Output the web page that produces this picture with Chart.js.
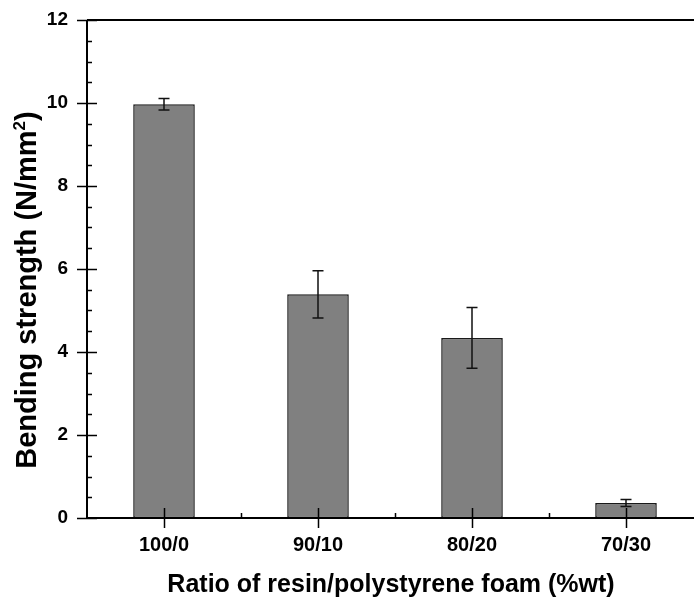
<!DOCTYPE html>
<html>
<head>
<meta charset="utf-8">
<script src="https://cdn.jsdelivr.net/npm/chart.js@4.4.0/dist/chart.umd.min.js"></script>
<style>
  html, body { margin: 0; padding: 0; background: #fff; }
  #wrap { width: 694px; height: 599px; overflow: hidden; position: relative; }
  canvas { display: block; }
</style>
</head>
<body>
<div id="wrap"><canvas id="c" width="720" height="599"></canvas></div>
<script>
const categories = ['100/0', '90/10', '80/20', '70/30'];
const strength = [9.97, 5.39, 4.34, 0.36];
const strengthErr = [0.14, 0.57, 0.73, 0.085];
const yTicks = [0, 2, 4, 6, 8, 10, 12];
const xTitle = 'Ratio of resin/polystyrene foam (%wt)';
const yTitleMain = 'Bending strength (N/mm';
const yTitleSup = '2';
const yTitleEnd = ')';

const FONT = '"Liberation Sans", Arial, sans-serif';

const decorPlugin = {
  id: 'decor',
  afterDatasetsDraw(chart) {
    const ctx = chart.ctx;
    const a = chart.chartArea;
    const xs = chart.scales.x, ys = chart.scales.y;
    ctx.save();
    // error bars
    ctx.strokeStyle = '#111';
    ctx.lineWidth = 1.5;
    strength.forEach((v, i) => {
      const x = xs.getPixelForValue(i);
      const yt = ys.getPixelForValue(v + strengthErr[i]);
      const yb = ys.getPixelForValue(v - strengthErr[i]);
      const cap = 5.5;
      ctx.beginPath();
      ctx.moveTo(x, yt); ctx.lineTo(x, yb);
      ctx.moveTo(x - cap, yt); ctx.lineTo(x + cap, yt);
      ctx.moveTo(x - cap, yb); ctx.lineTo(x + cap, yb);
      ctx.stroke();
    });
    // axes frame
    ctx.strokeStyle = '#000';
    ctx.lineWidth = 2;
    ctx.beginPath();
    ctx.moveTo(a.left, a.top); ctx.lineTo(a.right, a.top);
    ctx.moveTo(a.left, a.top); ctx.lineTo(a.left, a.bottom);
    ctx.moveTo(a.left, a.bottom); ctx.lineTo(a.right, a.bottom);
    ctx.moveTo(a.right, a.top); ctx.lineTo(a.right, a.bottom);
    ctx.stroke();
    // y ticks
    ctx.lineWidth = 1.5;
    ctx.beginPath();
    for (let v = 0; v <= 12.001; v += 0.5) {
      const y = Math.round(ys.getPixelForValue(v)) + 0.5;
      const major = Math.abs(v - Math.round(v / 2) * 2) < 1e-6;
      if (major) { ctx.moveTo(a.left - 10, y); ctx.lineTo(a.left + 10, y); }
      else { ctx.moveTo(a.left, y); ctx.lineTo(a.left + 5, y); }
    }
    // x ticks
    categories.forEach((c, i) => {
      const x = Math.round(xs.getPixelForValue(i)) + 0.5;
      ctx.moveTo(x, a.bottom - 10); ctx.lineTo(x, a.bottom + 10);
      if (i < categories.length - 1) {
        const xm = Math.round((xs.getPixelForValue(i) + xs.getPixelForValue(i + 1)) / 2) + 0.5;
        ctx.moveTo(xm, a.bottom); ctx.lineTo(xm, a.bottom - 5);
      }
    });
    ctx.stroke();
    // x title
    ctx.fillStyle = '#000';
    ctx.font = 'bold 25px ' + FONT;
    ctx.textAlign = 'center';
    ctx.textBaseline = 'alphabetic';
    ctx.fillText(xTitle, 391, 592);
    // y title with superscript
    ctx.translate(36, 290);
    ctx.rotate(-Math.PI / 2);
    const mainFont = 'bold 29px ' + FONT;
    const supFont = 'bold 17px ' + FONT;
    ctx.font = mainFont;
    const w1 = ctx.measureText(yTitleMain).width;
    const w3 = ctx.measureText(yTitleEnd).width;
    ctx.font = supFont;
    const w2 = ctx.measureText(yTitleSup).width;
    const total = w1 + w2 + w3;
    let x0 = -total / 2;
    ctx.textAlign = 'left';
    ctx.font = mainFont;
    ctx.fillText(yTitleMain, x0, 0);
    ctx.font = supFont;
    ctx.fillText(yTitleSup, x0 + w1, -11);
    ctx.font = mainFont;
    ctx.fillText(yTitleEnd, x0 + w1 + w2, 0);
    ctx.restore();
  }
};

new Chart(document.getElementById('c'), {
  type: 'bar',
  data: {
    labels: categories,
    datasets: [{
      data: strength,
      backgroundColor: '#808080',
      borderColor: '#1a1a1a',
      borderWidth: 1.5,
      borderSkipped: false,
      barPercentage: 0.4,
      categoryPercentage: 1.0
    }]
  },
  options: {
    responsive: false,
    animation: false,
    devicePixelRatio: 1,
    layout: { autoPadding: false, padding: { top: 20, left: 0, right: 17, bottom: 0 } },
    plugins: { legend: { display: false }, tooltip: { enabled: false } },
    scales: {
      x: {
        offset: true,
        grid: { display: false, drawTicks: false },
        border: { display: false },
        ticks: { color: '#000', font: { family: FONT, size: 20, weight: 'bold' }, padding: 15 },
        afterFit(s) { s.height = 81; s.paddingLeft = 0; s.paddingRight = 0; }
      },
      y: {
        min: 0, max: 12,
        afterBuildTicks(s) { s.ticks = yTicks.map(v => ({ value: v })); },
        grid: { display: false, drawTicks: false },
        border: { display: false },
        ticks: { color: '#000', font: { family: FONT, size: 19, weight: 'bold' }, padding: 19 },
        afterFit(s) { s.width = 87; s.paddingTop = 0; s.paddingBottom = 0; }
      }
    }
  },
  plugins: [decorPlugin]
});
</script>
</body>
</html>
